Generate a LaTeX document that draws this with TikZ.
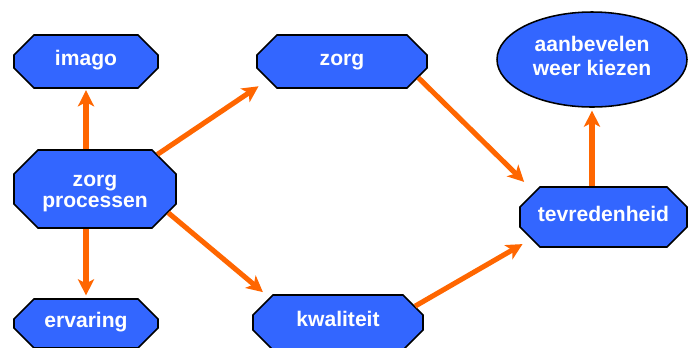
\documentclass[tikz,border=0pt]{standalone}
\usepackage{fontspec}
\setmainfont{Liberation Sans}
\usetikzlibrary{shapes.misc,shapes.geometric,arrows.meta}
\definecolor{vakblauw}{RGB}{51,102,255}
\definecolor{pijloranje}{RGB}{255,102,0}

\begin{document}
\begin{tikzpicture}[
    tekst/.style={draw,line width=1.1pt,fill=vakblauw,text=white,inner sep=0pt,align=center,
      font=\fontsize{15}{#1}\selectfont\bfseries,
      execute at begin node=\strut,execute at end node=\strut},
    tekst/.default=15.5pt,
    vak/.style={chamfered rectangle,chamfered rectangle xsep=#1,chamfered rectangle ysep=#1,tekst},
    vak/.default=.25cm,
    pijl/.style={draw=pijloranje,line width=3.6pt,-{Stealth[length=11.5pt,width=11.5pt,inset=3pt]}}]
    \useasboundingbox (0,0) rectangle (17.35,-8.675);
    % linker kolom
    \node[vak,minimum width=3.6cm,minimum height=1.325cm] (imago) at (2.15,-1.5375) {imago};
    \node[vak=.3cm,minimum width=4.05cm,minimum height=1.95cm] (proc) at (2.375,-4.725)
      {\rule{0pt}{16pt}zorg\\processen};
    \node[vak,minimum width=3.6cm,minimum height=1.225cm] (erv) at (2.15,-8.0875) {ervaring};
    % midden
    \node[vak,minimum width=4.25cm,minimum height=1.325cm] (zorg) at (8.55,-1.5375) {zorg};
    \node[vak,minimum width=4.25cm,minimum height=1.375cm] (kwal) at (8.45,-8.0625) {kwaliteit};
    % rechts
    \node[vak,minimum width=4.175cm,minimum height=1.5cm] (tevr) at (15.0875,-5.425) {tevredenheid};
    \node[ellipse,tekst=17.5pt,minimum width=4.75cm,minimum height=2.375cm] (kies) at (14.8,-1.4875) {aanbevelen\\weer kiezen};
    % pijlen
    \draw[pijl,shorten >=1pt] (imago.south |- proc.north) -- (imago.south);
    \draw[pijl,shorten >=2pt] (erv.north |- proc.south) -- (erv.north);
    \draw[pijl,shorten >=8pt] (proc.29) -- (zorg.194);
    \draw[pijl,shorten >=6pt] (proc.-18) -- (kwal.160);
    \draw[pijl,shorten >=10pt] (zorg.-12) -- (tevr.160);
    \draw[pijl,shorten >=7pt] (kwal.12) -- (tevr.197);
    \draw[pijl,shorten >=2pt] (kies.south |- tevr.north) -- (kies.south);
\end{tikzpicture}
\end{document}
